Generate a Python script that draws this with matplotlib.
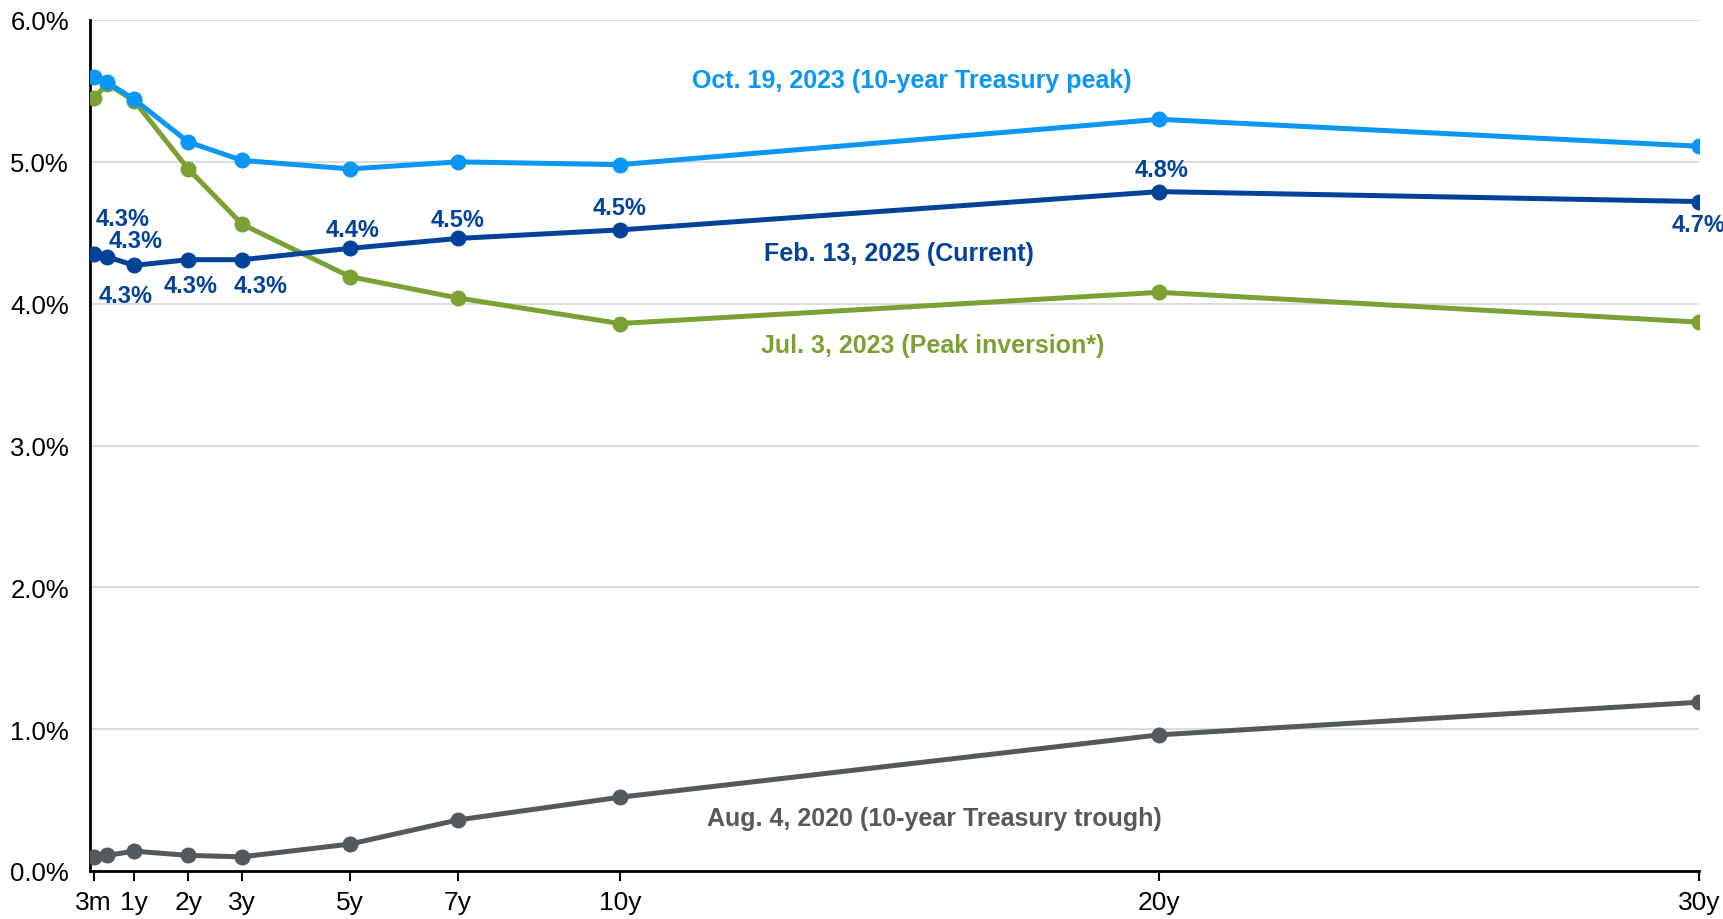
import numpy as np
import matplotlib
matplotlib.use("Agg")
import matplotlib.pyplot as plt
from matplotlib.ticker import FuncFormatter

plt.rcParams["font.family"] = ["Liberation Sans", "DejaVu Sans"]

# === Dados: curva de juros (maturidade em anos) ===
maturidades = [0.25, 0.5, 1, 2, 3, 5, 7, 10, 20, 30]
tick_pos = [0.25, 1, 2, 3, 5, 7, 10, 20, 30]
tick_labels = ["3m", "1y", "2y", "3y", "5y", "7y", "10y", "20y", "30y"]

oct_2023 = [5.60, 5.56, 5.44, 5.14, 5.01, 4.95, 5.00, 4.98, 5.30, 5.11]
jul_2023 = [5.45, 5.55, 5.43, 4.95, 4.56, 4.19, 4.04, 3.86, 4.08, 3.87]
feb_2025 = [4.35, 4.33, 4.27, 4.31, 4.31, 4.39, 4.46, 4.52, 4.79, 4.72]
aug_2020 = [0.10, 0.11, 0.14, 0.11, 0.10, 0.19, 0.36, 0.52, 0.96, 1.19]

rotulos_feb = ["4.3%", "4.3%", "4.3%", "4.3%", "4.3%", "4.4%", "4.5%", "4.5%", "4.8%", "4.7%"]
# deslocamento dos rotulos (pixels)
desloc_feb = [(29, 36), (28, 16), (-9, -30), (2, -26), (18, -26),
              (2, 19), (0, 19), (0, 22), (2, 22), (0, -23)]

cores = {
    "oct": "#0A96F5",
    "jul": "#7BA135",
    "feb": "#02429A",
    "aug": "#55595C",
}

fig = plt.figure(figsize=(17.23, 9.2), dpi=100)
ax = fig.add_axes([90 / 1723, 48 / 920, 1609 / 1723, 851 / 920])

estilo = dict(linewidth=3.6, marker="o", markersize=10.5, solid_capstyle="round")
ax.plot(maturidades, aug_2020, color=cores["aug"], **estilo, zorder=3)
ax.plot(maturidades, jul_2023, color=cores["jul"], **estilo, zorder=4)
ax.plot(maturidades, feb_2025, color=cores["feb"], **estilo, zorder=5)
ax.plot(maturidades, oct_2023, color=cores["oct"], **estilo, zorder=6)

for x, y, txt, (dx, dy) in zip(maturidades, feb_2025, rotulos_feb, desloc_feb):
    ax.annotate(txt, (x, y), xytext=(dx, dy), textcoords="offset pixels",
                ha="center", va="center", fontsize=17, fontweight="bold",
                color=cores["feb"], zorder=7)

# nomes das curvas
ax.text(0.511, 0.929, "Oct. 19, 2023 (10-year Treasury peak)", transform=ax.transAxes,
        ha="center", va="center", fontsize=18, fontweight="bold", color=cores["oct"])
ax.text(0.503, 0.726, "Feb. 13, 2025 (Current)", transform=ax.transAxes,
        ha="center", va="center", fontsize=18, fontweight="bold", color=cores["feb"])
ax.text(0.524, 0.618, "Jul. 3, 2023 (Peak inversion*)", transform=ax.transAxes,
        ha="center", va="center", fontsize=18, fontweight="bold", color=cores["jul"])
ax.text(0.525, 0.062, "Aug. 4, 2020 (10-year Treasury trough)", transform=ax.transAxes,
        ha="center", va="center", fontsize=18, fontweight="bold", color=cores["aug"])

ax.set_xlim(0.18, 30)
ax.set_ylim(0, 6)
ax.set_xticks(tick_pos)
ax.set_xticklabels(tick_labels, family=["Liberation Sans Narrow", "Liberation Sans"])
ax.set_yticks(np.arange(0, 6.1, 1.0))
ax.yaxis.set_major_formatter(FuncFormatter(lambda v, p: f"{v:.1f}%"))

ax.grid(axis="y", color="#D9D9D9", linewidth=1.3)
ax.set_axisbelow(True)
for s in ["top", "right"]:
    ax.spines[s].set_visible(False)
ax.spines["left"].set_linewidth(2)
ax.spines["bottom"].set_linewidth(2)
ax.spines["bottom"].set_zorder(8)
ax.tick_params(axis="x", length=7, width=1.5, direction="out", labelsize=19, pad=7)
ax.tick_params(axis="y", length=0, labelsize=18.5, pad=15)

plt.savefig("out.png", dpi=100)
